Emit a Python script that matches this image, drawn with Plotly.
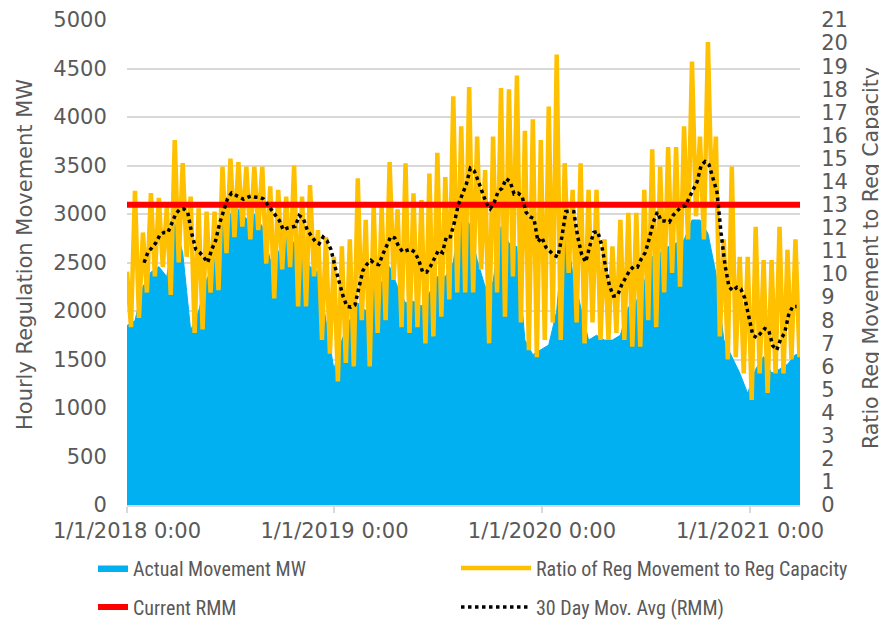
import pandas as pd
import plotly.graph_objects as go

# ---------------- data ----------------
# Actual regulation movement, MW (left axis), sampled every 14 days from 2018-01-01
actual_start = "2018-01-01"
actual_mw = [1850, 1900, 2250, 2400, 2457, 2354, 2900, 2600, 1800, 2000,
             2320, 2500, 3100, 3000, 3050, 2950, 3000, 2870, 2526, 2600,
             2804, 2700, 2598, 2457, 2400, 1900, 1400, 1700, 1907, 2083,
             2000, 2250, 2300, 2457, 2250, 2083, 2100, 2050, 2186, 2354,
             2354, 2500, 3041, 2900, 2526, 2250, 2300, 2870, 2700, 2663,
             1700, 1550, 1600, 1650, 2000, 3000, 2390, 2040, 1700, 1750,
             1700, 1700, 1750, 2040, 2100, 2300, 2560, 2600, 2663, 2700,
             2732, 2938, 2938, 2800, 2390, 1700, 1530, 1360, 1150, 1400,
             1530, 1360, 1400, 1450, 1550, 1550]

# Ratio of reg movement to reg capacity (right axis): weekly peaks and troughs
ratio_start = "2018-01-01"
ratio_peaks = [10.1, 13.6, 11.8, 13.5, 13.3, 12.9, 15.8, 14.8, 13.35, 12.85,
               12.7, 12.7, 14.65, 15.0, 14.85, 14.65, 14.65, 14.65, 13.8, 13.65,
               13.35, 14.7, 13.35, 13.85, 11.9, 11.6, 10.75, 11.2, 11.5, 14.15,
               12.35, 12.9, 12.9, 14.85, 12.8, 14.8, 13.5, 13.2, 14.35, 15.25,
               14.2, 17.7, 16.4, 18.1, 15.95, 14.5, 15.95, 18.05, 18.0, 18.6,
               16.2, 16.7, 15.8, 17.25, 19.5, 14.8, 13.65, 14.8, 13.65, 13.65,
               11.5, 11.2, 12.35, 12.65, 12.65, 13.65, 15.4, 14.65, 15.5, 15.5,
               16.4, 19.2, 15.95, 20.05, 15.95, 11.5, 14.65, 10.75, 10.75, 12.05,
               10.6, 10.6, 12.05, 11.05, 11.5]
ratio_troughs = [7.7, 8.1, 9.2, 9.9, 10.3, 9.1, 10.5, 10.75, 7.45, 7.6,
                 9.2, 9.3, 10.9, 11.6, 12.05, 11.5, 11.9, 10.45, 8.95, 10.2,
                 10.3, 8.6, 8.6, 9.9, 7.15, 6.55, 5.35, 6.15, 6.0, 8.0,
                 6.0, 7.45, 8.0, 9.75, 7.7, 7.45, 7.7, 7.0, 7.3, 8.15,
                 8.9, 9.2, 9.2, 9.2, 10.2, 7.0, 9.2, 8.15, 9.9, 7.9,
                 6.7, 6.4, 7.15, 7.9, 7.15, 10.05, 7.9, 7.0, 7.9, 7.15,
                 7.15, 7.45, 7.15, 6.85, 6.85, 8.0, 7.7, 9.2, 10.05, 9.45,
                 11.5, 12.5, 11.5, 12.9, 7.3, 6.3, 6.4, 5.7, 4.55, 5.7,
                 4.85, 5.7, 5.7, 6.3, 6.4]

# Current RMM (right axis)
rmm_value = 13
rmm_span = ["2018-01-01", "2021-03-30"]

# 30-day moving average of the ratio (right axis), weekly from 2018-01-31
ma_start = "2018-01-31"
ma_values = [10.49, 10.96, 11.14, 11.36, 11.70, 11.80, 11.80, 12.24, 12.62, 12.80,
             12.82, 12.66, 11.75, 11.07, 10.93, 10.73, 10.50, 11.06, 11.45, 12.20,
             12.73, 13.27, 13.51, 13.42, 13.33, 13.24, 13.32, 13.38, 13.33, 13.32,
             13.25, 13.00, 12.76, 12.55, 12.32, 11.91, 11.99, 12.02, 12.07, 12.53,
             12.42, 11.91, 11.65, 11.42, 11.31, 11.60, 11.44, 11.05, 10.32, 9.70,
             9.05, 8.60, 8.57, 8.66, 9.40, 10.15, 10.42, 10.59, 10.44, 10.41,
             10.85, 11.26, 11.62, 11.56, 11.20, 10.96, 11.04, 11.08, 10.95, 10.62,
             10.10, 10.08, 10.34, 10.70, 11.03, 10.93, 11.62, 11.62, 12.24, 13.02,
             13.48, 13.89, 14.58, 14.46, 14.02, 13.50, 13.08, 12.83, 13.10, 13.58,
             13.72, 14.13, 14.00, 13.47, 13.50, 13.37, 12.68, 12.48, 12.40, 11.40,
             11.58, 11.16, 10.98, 10.82, 10.74, 11.60, 12.70, 12.72, 12.70, 11.60,
             10.84, 10.52, 11.20, 11.80, 11.85, 11.26, 10.30, 9.47, 9.05, 9.07,
             9.52, 9.85, 10.14, 10.32, 10.30, 10.67, 10.94, 11.55, 12.25, 12.68,
             12.30, 12.30, 12.25, 12.55, 12.72, 12.91, 12.95, 13.30, 13.71, 14.00,
             14.70, 14.87, 14.73, 14.20, 13.55, 11.80, 10.40, 9.45, 9.28, 9.43,
             9.35, 8.95, 8.20, 7.35, 7.25, 7.43, 7.64, 7.56, 6.90, 6.71,
             7.18, 7.45, 8.23, 8.59, 8.59]

x_tick_dates = ["2018-01-01", "2019-01-01", "2020-01-01", "2021-01-01"]
x_tick_labels = ["1/1/2018 0:00", "1/1/2019 0:00", "1/1/2020 0:00", "1/1/2021 0:00"]
x_range = ["2018-01-01", "2021-03-30"]
left_title = "Hourly Regulation Movement MW"
right_title = "Ratio Reg Movement to Reg Capacity"

# ---------------- build ----------------
actual_dates = pd.date_range(actual_start, periods=len(actual_mw), freq="14D")

ratio_values = []
for p, t in zip(ratio_peaks, ratio_troughs):
    ratio_values += [p, t]
ratio_dates = pd.date_range(ratio_start, periods=len(ratio_values), freq="7D")

ma_dates = pd.date_range(ma_start, periods=len(ma_values), freq="7D")

GRAY = "#595959"
TICKFONT = dict(family="DejaVu Sans, Liberation Sans, sans-serif", size=21, color=GRAY)
TITLEFONT = dict(family="DejaVu Sans, Liberation Sans, sans-serif", size=21, color=GRAY)
RTITLEFONT = dict(family="DejaVu Sans, Liberation Sans, sans-serif", size=20.5, color=GRAY)
LEGFONT = dict(family="Liberation Sans Narrow, Arial Narrow, Roboto Condensed, Liberation Sans, sans-serif",
               size=20, color=GRAY)

# the page adds an 8px body margin, so the figure is drawn 8px smaller and offset
W, H, OFF = 879, 613, 8
PL, PR, PT, PB = 127 - OFF, 800 - OFF, 20 - OFF, 505 - OFF   # plot box in figure px

fig = go.Figure()
fig.add_trace(go.Scatter(
    x=actual_dates, y=actual_mw, name="Actual Movement MW", mode="lines",
    line=dict(color="#00B0F0", width=1), fill="tozeroy", fillcolor="#00B0F0",
    legend="legend"))
fig.add_trace(go.Scatter(
    x=ratio_dates, y=ratio_values, name="Ratio of Reg Movement to Reg Capacity",
    mode="lines", line=dict(color="#FFC000", width=4.5), yaxis="y2", legend="legend2"))
fig.add_trace(go.Scatter(
    x=rmm_span, y=[rmm_value, rmm_value], name="Current RMM", mode="lines",
    line=dict(color="#FF0000", width=6), yaxis="y2", legend="legend3"))
fig.add_trace(go.Scatter(
    x=ma_dates, y=ma_values, name="30 Day Mov. Avg (RMM)", mode="lines",
    line=dict(color="#000000", width=3.5, dash="dot"), yaxis="y2", legend="legend4"))

def leg(xpx, ypx, iw):
    return dict(x=(xpx - OFF) / W, y=1 - (ypx - OFF) / H, xref="container", yref="container",
                xanchor="left", yanchor="middle", itemwidth=iw, font=LEGFONT,
                bgcolor="rgba(0,0,0,0)", borderwidth=0)

def px_to_paper(xpx, ypx):
    fx, fy = xpx - OFF, ypx - OFF
    return (fx - PL) / (PR - PL), 1 - (fy - PT) / (PB - PT)

lx, ly = px_to_paper(25, 255)
rx, ry = px_to_paper(871, 258)

fig.update_layout(
    width=W, height=H,
    margin=dict(l=PL, r=W - PR, t=PT, b=H - PB, autoexpand=False),
    paper_bgcolor="white", plot_bgcolor="white",
    showlegend=True,
    legend=leg(93, 568, 30),
    legend2=leg(456, 568, 70),
    legend3=leg(93, 607, 30),
    legend4=leg(456, 607, 70),
    xaxis=dict(type="date", range=x_range, tickvals=x_tick_dates, ticktext=x_tick_labels,
               ticks="outside", ticklen=6, tickcolor="#d9d9d9", tickwidth=1.5, tickangle=0,
               showline=True, linecolor="#d9d9d9", linewidth=1.5,
               showgrid=False, zeroline=False, tickfont=TICKFONT),
    yaxis=dict(range=[0, 5000], dtick=500, showgrid=True, gridcolor="#d9d9d9", gridwidth=1.5,
               zeroline=False, showline=False, tickfont=TICKFONT,
               ticks="outside", ticklen=15, tickcolor="rgba(0,0,0,0)"),
    yaxis2=dict(range=[0, 21], dtick=1, overlaying="y", side="right", showgrid=False,
                zeroline=False, showline=False, tickfont=TICKFONT,
                ticks="outside", ticklen=16, tickcolor="rgba(0,0,0,0)"),
    annotations=[
        dict(text=left_title, x=lx, y=ly, xref="paper", yref="paper", showarrow=False,
             textangle=-90, xanchor="center", yanchor="middle", font=TITLEFONT),
        dict(text=right_title, x=rx, y=ry, xref="paper", yref="paper", showarrow=False,
             textangle=-90, xanchor="center", yanchor="middle", font=RTITLEFONT),
    ],
)

fig.write_html("out.html")
